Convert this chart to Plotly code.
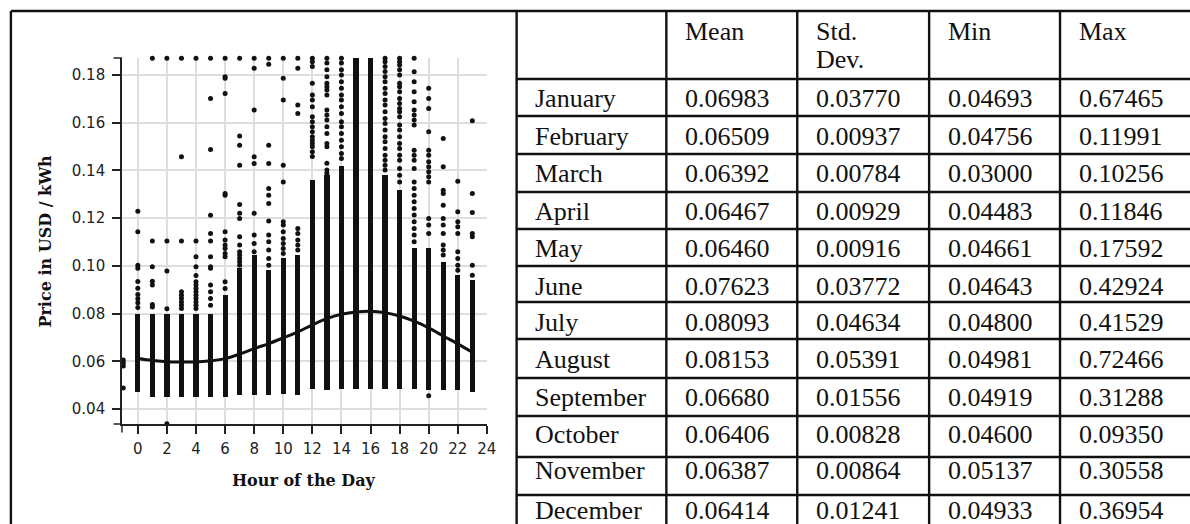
import plotly.graph_objects as go

# ---------------------------------------------------------------- data
HOURS = list(range(24))

# smoothed hourly price curve (USD / kWh)
CURVE_PRICE = [0.0612, 0.0604, 0.0598, 0.0597, 0.0597, 0.0602, 0.0611, 0.0630,
               0.0653, 0.0674, 0.0698, 0.0723, 0.0753, 0.0779, 0.0797, 0.0807,
               0.0810, 0.0804, 0.0790, 0.0768, 0.0740, 0.0706, 0.0673, 0.0638]

# extent of the densely packed observations for each hour
BAND_LOW = [0.0471, 0.0450, 0.0450, 0.0450, 0.0450, 0.0450, 0.0450, 0.0457,
            0.0457, 0.0457, 0.0464, 0.0457, 0.0485, 0.0478, 0.0485, 0.0485,
            0.0485, 0.0485, 0.0485, 0.0485, 0.0478, 0.0478, 0.0478, 0.0471]
BAND_HIGH = [0.0800, 0.0800, 0.0800, 0.0800, 0.0800, 0.0800, 0.0877, 0.0990,
             0.1045, 0.0982, 0.1031, 0.1045, 0.1360, 0.1380, 0.1420, 0.1870,
             0.1870, 0.1380, 0.1320, 0.1073, 0.1073, 0.1017, 0.0961, 0.0940]

# individual observations outside the dense band (0.187 = capped at axis top)
SPARSE_PRICES = [
    [0.0825, 0.0845, 0.0862, 0.0880, 0.0906, 0.0934, 0.0990, 0.1003, 0.1143, 0.1229],
    [0.0828, 0.0838, 0.0920, 0.0936, 0.0996, 0.1104, 0.1870],
    [0.0338, 0.0820, 0.0978, 0.1104, 0.1870],
    [0.0821, 0.0835, 0.0849, 0.0863, 0.0877, 0.0891, 0.1104, 0.1457, 0.1870],
    [0.0821, 0.0835, 0.0849, 0.0863, 0.0877, 0.0891, 0.0905, 0.0920, 0.0933,
     0.0960, 0.0996, 0.1038, 0.1104, 0.1870],
    [0.0835, 0.0863, 0.0891, 0.0920, 0.0990, 0.0996, 0.1038, 0.1104, 0.1136,
     0.1212, 0.1488, 0.1702, 0.1870],
    [0.0905, 0.0933, 0.1038, 0.1052, 0.1073, 0.1087, 0.1108, 0.1143, 0.1296,
     0.1303, 0.1723, 0.1786, 0.1793, 0.1870],
    [0.1003, 0.1017, 0.1031, 0.1045, 0.1059, 0.1087, 0.1122, 0.1199, 0.1220,
     0.1257, 0.1422, 0.1506, 0.1544, 0.1870],
    [0.1059, 0.1094, 0.1129, 0.1220, 0.1429, 0.1457, 0.1653, 0.1828, 0.1870],
    [0.1003, 0.1031, 0.1066, 0.1101, 0.1129, 0.1188, 0.1261, 0.1296, 0.1324,
     0.1429, 0.1506, 0.1845, 0.1870],
    [0.1052, 0.1073, 0.1094, 0.1115, 0.1143, 0.1171, 0.1185, 0.1352, 0.1422,
     0.1695, 0.1786, 0.1870],
    [0.1066, 0.1087, 0.1108, 0.1136, 0.1157, 0.1639, 0.1674, 0.1828, 0.1870],
    [0.1458, 0.1478, 0.1499, 0.1513, 0.1527, 0.1541, 0.1562, 0.1583, 0.1604,
     0.1625, 0.1667, 0.1695, 0.1716, 0.1765, 0.1836, 0.1856, 0.1870],
    [0.1388, 0.1402, 0.1430, 0.1499, 0.1513, 0.1555, 0.1583, 0.1611, 0.1632,
     0.1653, 0.1716, 0.1737, 0.1751, 0.1765, 0.1793, 0.1822, 0.1850, 0.1870],
    [0.1450, 0.1471, 0.1499, 0.1527, 0.1555, 0.1583, 0.1604, 0.1639, 0.1667,
     0.1695, 0.1716, 0.1745, 0.1772, 0.1800, 0.1822, 0.1850, 0.1870],
    [],
    [],
    [0.1402, 0.1422, 0.1443, 0.1464, 0.1492, 0.1520, 0.1541, 0.1569, 0.1597,
     0.1618, 0.1646, 0.1674, 0.1695, 0.1723, 0.1744, 0.1772, 0.1793, 0.1815,
     0.1836, 0.1856, 0.1870],
    [0.1352, 0.1380, 0.1408, 0.1443, 0.1464, 0.1492, 0.1513, 0.1541, 0.1569,
     0.1590, 0.1625, 0.1646, 0.1660, 0.1681, 0.1702, 0.1730, 0.1751, 0.1765,
     0.1800, 0.1822, 0.1842, 0.1856, 0.1870],
    [0.1101, 0.1129, 0.1157, 0.1185, 0.1213, 0.1240, 0.1269, 0.1296, 0.1324,
     0.1352, 0.1408, 0.1443, 0.1464, 0.1485, 0.1590, 0.1611, 0.1632, 0.1653,
     0.1688, 0.1730, 0.1772, 0.1814, 0.1870],
    [0.0455, 0.1136, 0.1171, 0.1199, 0.1352, 0.1373, 0.1394, 0.1415, 0.1436,
     0.1464, 0.1485, 0.1562, 0.1660, 0.1702, 0.1744],
    [0.1045, 0.1066, 0.1087, 0.1136, 0.1171, 0.1199, 0.1254, 0.1303, 0.1317,
     0.1415, 0.1534],
    [0.0982, 0.1003, 0.1031, 0.1059, 0.1136, 0.1164, 0.1185, 0.1227, 0.1355],
    [0.0961, 0.1003, 0.1122, 0.1136, 0.1224, 0.1303, 0.1608],
]

# a few records logged with hour = -1
EDGE_HOUR = -1
EDGE_PRICES = [0.0605, 0.0593, 0.0580, 0.0488]

X_TICKS = list(range(0, 25, 2))
Y_TICKS = [0.04, 0.06, 0.08, 0.10, 0.12, 0.14, 0.16, 0.18]

# monthly summary table
TABLE_HEADER = ["", "Mean", "Std.<br>Dev.", "Min", "Max"]
MONTHS = ["January", "February", "March", "April", "May", "June", "July",
          "August", "September", "October", "November", "December"]
MEAN = ["0.06983", "0.06509", "0.06392", "0.06467", "0.06460", "0.07623",
        "0.08093", "0.08153", "0.06680", "0.06406", "0.06387", "0.06414"]
STD_DEV = ["0.03770", "0.00937", "0.00784", "0.00929", "0.00916", "0.03772",
           "0.04634", "0.05391", "0.01556", "0.00828", "0.00864", "0.01241"]
MIN = ["0.04693", "0.04756", "0.03000", "0.04483", "0.04661", "0.04643",
       "0.04800", "0.04981", "0.04919", "0.04600", "0.05137", "0.04933"]
MAX = ["0.67465", "0.11991", "0.10256", "0.11846", "0.17592", "0.42924",
       "0.41529", "0.72466", "0.31288", "0.09350", "0.30558", "0.36954"]

# ---------------------------------------------------------------- layout helpers
W, H = 1190, 524


def px(x):
    return x / W


def py(y):
    return 1 - y / H


INK = "#111111"
AXIS = "#222222"
GRID = "#dedede"

# plot area in pixels
PL, PR, PT, PB = 123, 491, 58, 424

# table geometry in pixels
COL_EDGES = [521, 672, 804, 937, 1069, 1202]
ROW_EDGES = [11, 79, 116, 154, 192, 229, 266, 302, 339, 378, 416, 457, 495, 533]
ROW_TEXT_Y = [98, 136, 173, 211, 248, 286, 322, 359, 397, 434, 470, 510]
HEADER_LINE_Y = [31, 59]
CELL_PAD = 17

# ---------------------------------------------------------------- figure
fig = go.Figure()

fig.add_trace(go.Bar(
    x=HOURS,
    y=[hi - lo for lo, hi in zip(BAND_LOW, BAND_HIGH)],
    base=BAND_LOW,
    width=0.36,
    marker=dict(color=INK, line=dict(width=0)),
    hoverinfo="skip",
    showlegend=False,
))

sx, sy = [], []
for h, vals in zip(HOURS, SPARSE_PRICES):
    sx.extend([h] * len(vals))
    sy.extend(vals)
sx.extend([EDGE_HOUR] * len(EDGE_PRICES))
sy.extend(EDGE_PRICES)

fig.add_trace(go.Scatter(
    x=sx, y=sy, mode="markers",
    marker=dict(size=5, color=INK, line=dict(width=0)),
    cliponaxis=False, showlegend=False, hoverinfo="skip",
))

fig.add_trace(go.Scatter(
    x=HOURS, y=CURVE_PRICE, mode="lines",
    line=dict(color=INK, width=3, shape="spline", smoothing=1.0),
    showlegend=False, hoverinfo="skip",
))

tick_font = dict(family="DejaVu Sans", size=15, color=AXIS)

fig.update_xaxes(
    domain=[px(PL), px(PR)], range=[-1.09, 24],
    tickvals=X_TICKS, ticktext=[str(t) for t in X_TICKS],
    showgrid=True, gridcolor=GRID, gridwidth=1.6, zeroline=False,
    showline=True, linecolor=AXIS, linewidth=1.5,
    ticks="outside", ticklen=8, tickwidth=1.5, tickcolor=AXIS,
    tickfont=tick_font, ticklabelstandoff=2, fixedrange=True,
)
fig.update_yaxes(
    domain=[py(PB), py(PT)], range=[0.03371, 0.18713],
    tickvals=Y_TICKS, ticktext=[f"{t:.2f}" for t in Y_TICKS],
    showgrid=True, gridcolor=GRID, gridwidth=1.6, zeroline=False,
    showline=True, linecolor=AXIS, linewidth=1.5,
    ticks="outside", ticklen=8, tickwidth=1.5, tickcolor=AXIS,
    tickfont=tick_font, ticklabelstandoff=4, fixedrange=True,
)

shapes = []


def seg(x0, y0, x1, y1, color=INK, width=2.4):
    shapes.append(dict(type="line", xref="paper", yref="paper",
                       x0=px(x0), y0=py(y0), x1=px(x1), y1=py(y1),
                       line=dict(color=color, width=width), layer="above"))


# outer ticks at the ends of the axis domains
seg(PL - 8.5, PT, PL, PT, AXIS, 1.5)
seg(PL - 8.5, PB, PL, PB, AXIS, 1.5)
seg(PL, PB, PL, PB + 8.5, AXIS, 1.5)

# frame around the chart and the table grid
seg(11, 11, 1210, 11)
seg(11, 11, 11, 540)
for x in COL_EDGES:
    seg(x, 11, x, 540)
for y in ROW_EDGES[1:]:
    seg(COL_EDGES[0], y, 1210, y)

annotations = []

title_font = dict(family="DejaVu Serif", size=16, color=INK)

# axis titles
annotations.append(dict(
    text="<b>Hour of the Day</b>", xref="paper", yref="paper",
    x=px((PL + PR) / 2), y=py(480), xanchor="center", yanchor="middle",
    showarrow=False, font=title_font,
))
annotations.append(dict(
    text="<b>Price in USD / kWh</b>", xref="paper", yref="paper",
    x=px(46), y=py((PT + PB) / 2), xanchor="center", yanchor="middle",
    textangle=-90, showarrow=False, font=title_font,
))

table_font = dict(family="Liberation Serif", size=26, color=INK)


def cell_text(text, col, y):
    annotations.append(dict(
        text=text, xref="paper", yref="paper",
        x=px(COL_EDGES[col] + CELL_PAD), y=py(y),
        xanchor="left", yanchor="middle", showarrow=False, font=table_font,
    ))


for c, head in enumerate(TABLE_HEADER):
    for k, part in enumerate(head.split("<br>")):
        if part:
            cell_text(part, c, HEADER_LINE_Y[k])

for r, y in enumerate(ROW_TEXT_Y):
    for c, col_vals in enumerate([MONTHS, MEAN, STD_DEV, MIN, MAX]):
        cell_text(col_vals[r], c, y)

fig.update_layout(
    width=W, height=H, autosize=False,
    margin=dict(l=0, r=0, t=0, b=0, pad=0),
    paper_bgcolor="white", plot_bgcolor="white",
    barmode="overlay", bargap=0,
    shapes=shapes, annotations=annotations,
    showlegend=False,
)

fig.write_html("out.html", config={"displayModeBar": False})
